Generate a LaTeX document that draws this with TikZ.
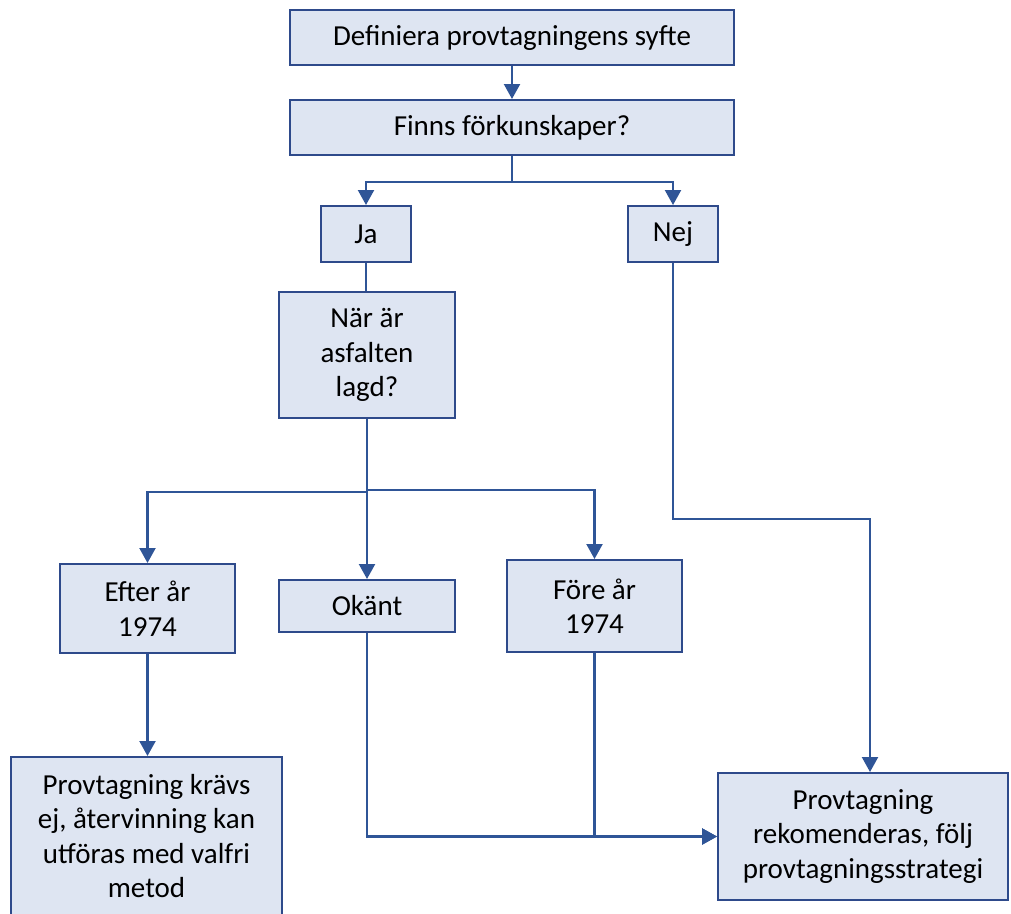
\documentclass[tikz,border=0pt]{standalone}
\usepackage{fontspec}
\setmainfont{Carlito}
\usepackage{tikz}
\usetikzlibrary{arrows.meta,calc,positioning}

\definecolor{boxfill}{HTML}{DEE5F2}
\definecolor{boxline}{HTML}{2E4A8B}
\definecolor{flowline}{HTML}{2F5597}

\begin{document}
\begin{tikzpicture}[
        x=1pt,
        y=-1pt,
        wire/.style={line width=2.2pt, draw=flowline},
        arr/.style={wire, -{Triangle[length=15pt,width=16pt]}},
        box/.style={draw=boxline, fill=boxfill, line width=2pt, inner sep=0pt,
            align=center, font=\fontsize{29}{34.5}\selectfont}
    ]
        \useasboundingbox (0,0) rectangle (1011,913);

        % top of the chart
        \node[box, minimum width=444, minimum height=55] (def) at (512,37.5) {Definiera provtagningens syfte};
        \node[box, minimum width=444, minimum height=55] (finns) at (512,127.5) {Finns förkunskaper?};
        \node[box, minimum width=90, minimum height=56] (ja) at (366,234) {Ja};
        \node[box, minimum width=90, minimum height=56] (nej) at (673,234) {Nej};
        \node[box, minimum width=176, minimum height=126] (nar) at (367,355) {När är\\asfalten\\lagd?};

        % the three answers
        \node[box, minimum width=175, minimum height=89] (efter) at (147.5,608.5) {Efter år\\1974};
        \node[box, minimum width=176, minimum height=52] (okant) at (367,606) {Okänt};
        \node[box, minimum width=175, minimum height=92] (fore) at (594.5,606) {Före år\\1974};

        % outcomes
        \node[box, minimum width=271, minimum height=158] (kravs) at (146.5,836) {Provtagning krävs\\ej, återvinning kan\\utföras med valfri\\metod};
        \node[box, minimum width=290, minimum height=127] (rekom) at (863,836.5) {Provtagning\\rekomenderas, följ\\provtagningsstrategi};

        \draw[arr] (def) -- (finns);
        \draw[arr] (finns.south) -- ++(0,26) -| (ja.north);
        \draw[arr] (finns.south) -- ++(0,26) -| (nej.north);
        \draw[wire] (ja.south) -- (ja.south |- nar.north);

        \draw[arr] (nar.south) -- ++(0,73) -| (efter.north);
        \draw[arr] (nar.south) -- (nar.south |- okant.north);
        \draw[arr] (nar.south) -- ++(0,71) -| (fore.north);

        \draw[arr] (nej.south) -- ++(0,256) -| ([xshift=7]rekom.north);
        \draw[arr] (efter.south) -- (efter.south |- kravs.north);
        \draw[arr] (okant.south) |- (rekom.west);
        \draw[arr] (fore.south) |- (rekom.west);
    \end{tikzpicture}
\end{document}
